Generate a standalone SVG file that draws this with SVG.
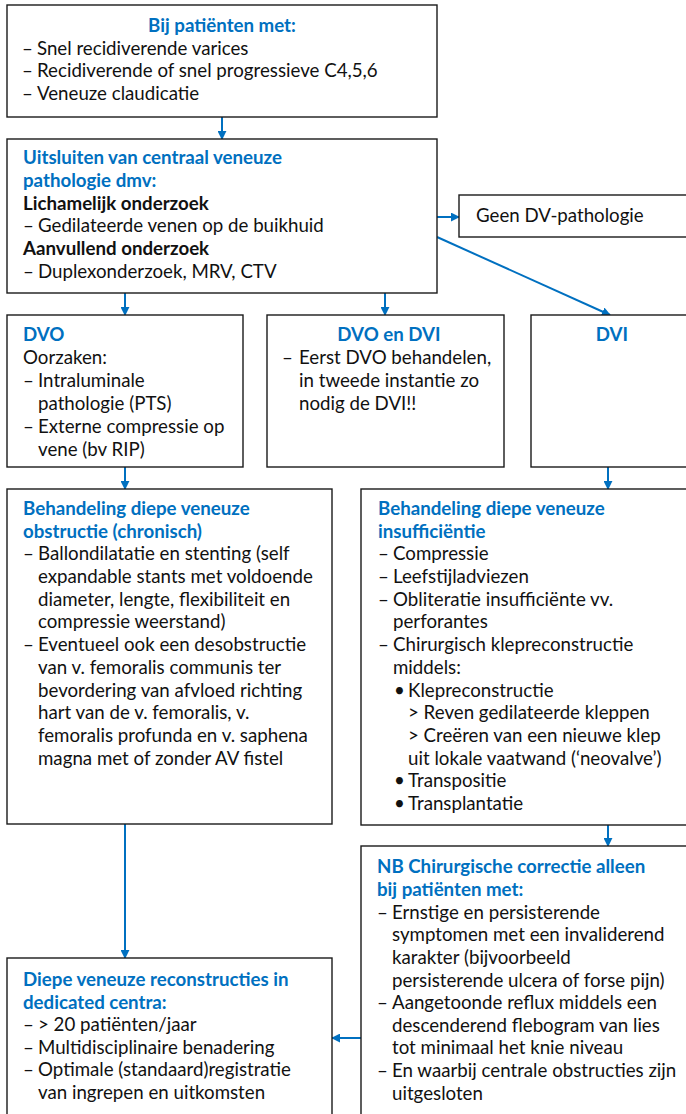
<svg xmlns="http://www.w3.org/2000/svg" width="686" height="1114" viewBox="0 0 686 1114">
<defs>
<marker id="ah" viewBox="0 0 10 10" refX="9" refY="5" markerWidth="4.5" markerHeight="4.5" orient="auto" markerUnits="strokeWidth">
<path d="M0,0 L10,5 L0,10 z" fill="#0070C0"/>
</marker>
<style>
.box{fill:#fff;stroke:#1a1a1a;stroke-width:1.4}
text{font-family:Lato,"Liberation Sans",sans-serif;font-size:18.7px;fill:#111}
.h{font-weight:bold;fill:#0070C0}
.b{font-weight:bold}
.c{fill:none;stroke:#0070C0;stroke-width:2;marker-end:url(#ah)}
</style>
</defs>
<rect width="686" height="1114" fill="#fff"/>

<g id="connectors">
<line class="c" x1="222" y1="117" x2="222" y2="139"/>
<line class="c" x1="437" y1="217" x2="459" y2="217"/>
<line class="c" x1="437" y1="237" x2="610" y2="315"/>
<line class="c" x1="125" y1="293" x2="125" y2="315"/>
<line class="c" x1="385" y1="293" x2="385" y2="315"/>
<line class="c" x1="125" y1="467" x2="125" y2="489"/>
<line class="c" x1="608" y1="467" x2="608" y2="489"/>
<line class="c" x1="608" y1="825" x2="608" y2="846"/>
<line class="c" x1="125" y1="824" x2="125" y2="958"/>
<line class="c" x1="361" y1="1038" x2="332" y2="1038"/>
</g>

<g id="n1">
<rect class="box" x="7" y="5" width="430" height="112"/>
<text class="h" x="222" y="32" text-anchor="middle">Bij patiënten met:</text>
<text y="54.5"><tspan x="22">–</tspan><tspan x="37">Snel recidiverende varices</tspan></text>
<text y="77"><tspan x="22">–</tspan><tspan x="37">Recidiverende of snel progressieve C4,5,6</tspan></text>
<text y="99.5"><tspan x="22">–</tspan><tspan x="37">Veneuze claudicatie</tspan></text>
</g>

<g id="n2">
<rect class="box" x="7" y="139" width="430" height="154"/>
<text class="h" x="23" y="164">Uitsluiten van centraal veneuze</text>
<text class="h" x="23" y="187">pathologie dmv:</text>
<text class="b" x="23" y="210">Lichamelijk onderzoek</text>
<text y="232"><tspan x="23">–</tspan><tspan x="38">Gedilateerde venen op de buikhuid</tspan></text>
<text class="b" x="23" y="255">Aanvullend onderzoek</text>
<text y="278"><tspan x="23">–</tspan><tspan x="38">Duplexonderzoek, MRV, CTV</tspan></text>
</g>

<g id="n3">
<rect class="box" x="459" y="195" width="240" height="42"/>
<text x="476" y="222">Geen DV-pathologie</text>
</g>

<g id="n4">
<rect class="box" x="7" y="315" width="236" height="152"/>
<text class="h" x="23" y="341">DVO</text>
<text x="23" y="364">Oorzaken:</text>
<text y="387"><tspan x="23">–</tspan><tspan x="38">Intraluminale</tspan></text>
<text x="38" y="410">pathologie (PTS)</text>
<text y="433"><tspan x="23">–</tspan><tspan x="38">Externe compressie op</tspan></text>
<text x="38" y="456">vene (bv RIP)</text>
</g>

<g id="n5">
<rect class="box" x="267" y="315" width="237" height="152"/>
<text class="h" x="389" y="341" text-anchor="middle">DVO en DVI</text>
<text y="364"><tspan x="282">–</tspan><tspan x="299">Eerst DVO behandelen,</tspan></text>
<text x="299" y="387">in tweede instantie zo</text>
<text x="299" y="410">nodig de DVI!!</text>
</g>

<g id="n6">
<rect class="box" x="531" y="315" width="200" height="152"/>
<text class="h" x="612" y="341" text-anchor="middle">DVI</text>
</g>

<g id="n7">
<rect class="box" x="7" y="489" width="325" height="335"/>
<text class="h" x="23" y="515">Behandeling diepe veneuze</text>
<text class="h" x="23" y="537.5">obstructie (chronisch)</text>
<text y="560"><tspan x="23">–</tspan><tspan x="38">Ballondilatatie en stenting (self</tspan></text>
<text x="38" y="583">expandable stants met voldoende</text>
<text x="38" y="605.5">diameter, lengte, flexibiliteit en</text>
<text x="38" y="628">compressie weerstand)</text>
<text y="651"><tspan x="23">–</tspan><tspan x="38">Eventueel ook een desobstructie</tspan></text>
<text x="38" y="674">van v. femoralis communis ter</text>
<text x="38" y="696.5">bevordering van afvloed richting</text>
<text x="38" y="719">hart van de v. femoralis, v.</text>
<text x="38" y="742">femoralis profunda en v. saphena</text>
<text x="38" y="764.5">magna met of zonder AV fistel</text>
</g>

<g id="n8">
<rect class="box" x="361" y="489" width="340" height="336"/>
<text class="h" x="378" y="515">Behandeling diepe veneuze</text>
<text class="h" x="378" y="537.5">insufficiëntie</text>
<text y="560"><tspan x="378">–</tspan><tspan x="393">Compressie</tspan></text>
<text y="583"><tspan x="378">–</tspan><tspan x="393">Leefstijladviezen</tspan></text>
<text y="605.5"><tspan x="378">–</tspan><tspan x="393">Obliteratie insufficiënte vv.</tspan></text>
<text x="393" y="628">perforantes</text>
<text y="651"><tspan x="378">–</tspan><tspan x="393">Chirurgisch klepreconstructie</tspan></text>
<text x="393" y="674">middels:</text>
<text y="696.5"><tspan x="394">•</tspan><tspan x="408">Klepreconstructie</tspan></text>
<text x="408" y="719">&gt; Reven gedilateerde kleppen</text>
<text x="408" y="742">&gt; Creëren van een nieuwe klep</text>
<text x="408" y="764.5">uit lokale vaatwand (‘neovalve’)</text>
<text y="787"><tspan x="394">•</tspan><tspan x="408">Transpositie</tspan></text>
<text y="810"><tspan x="394">•</tspan><tspan x="408">Transplantatie</tspan></text>
</g>

<g id="n9">
<rect class="box" x="361" y="846" width="340" height="300"/>
<text class="h" x="377" y="873">NB Chirurgische correctie alleen</text>
<text class="h" x="377" y="896">bij patiënten met:</text>
<text y="918.5"><tspan x="377">–</tspan><tspan x="392">Ernstige en persisterende</tspan></text>
<text x="392" y="941">symptomen met een invaliderend</text>
<text x="392" y="964">karakter (bijvoorbeeld</text>
<text x="392" y="986.5">persisterende ulcera of forse pijn)</text>
<text y="1009"><tspan x="377">–</tspan><tspan x="392">Aangetoonde reflux middels een</tspan></text>
<text x="392" y="1032">descenderend flebogram van lies</text>
<text x="392" y="1054">tot minimaal het knie niveau</text>
<text y="1077"><tspan x="377">–</tspan><tspan x="392">En waarbij centrale obstructies zijn</tspan></text>
<text x="392" y="1100">uitgesloten</text>
</g>

<g id="n10">
<rect class="box" x="7" y="958" width="325" height="200"/>
<text class="h" x="23" y="986">Diepe veneuze reconstructies in</text>
<text class="h" x="23" y="1008.5">dedicated centra:</text>
<text y="1031"><tspan x="23">–</tspan><tspan x="38">&gt; 20 patiënten/jaar</tspan></text>
<text y="1053.5"><tspan x="23">–</tspan><tspan x="38">Multidisciplinaire benadering</tspan></text>
<text y="1076"><tspan x="23">–</tspan><tspan x="38">Optimale (standaard)registratie</tspan></text>
<text x="38" y="1098.5">van ingrepen en uitkomsten</text>
</g>
</svg>
